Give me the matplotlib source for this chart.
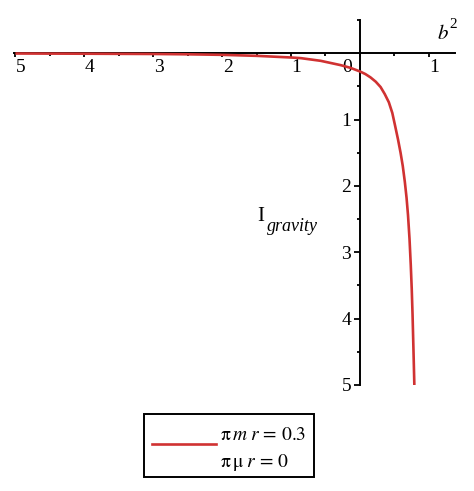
import matplotlib
matplotlib.use("Agg")
from matplotlib import pyplot as plt
from matplotlib.lines import Line2D
from matplotlib.patches import Rectangle
import matplotlib.transforms as mtransforms

plt.rcParams['font.family'] = ['Liberation Serif', 'DejaVu Serif']
plt.rcParams['mathtext.fontset'] = 'stix'

# values
b2 = [5.0, 4.0, 3.0, 2.5, 2.0, 1.5, 1.0, 0.855, 0.57, 0.28, 0.14, 0.0,
      -0.08, -0.154, -0.23, -0.30, -0.36, -0.42, -0.47, -0.51, -0.553,
      -0.59, -0.622, -0.652, -0.677, -0.698, -0.72, -0.738, -0.752, -0.764,
      -0.778, -0.79]
i_gravity = [0.005, 0.008, 0.012, 0.017, 0.025, 0.04, 0.065, 0.075, 0.115,
             0.18, 0.22, 0.275, 0.315, 0.365, 0.43, 0.51, 0.615, 0.74, 0.9,
             1.09, 1.3, 1.5, 1.7, 1.94, 2.18, 2.44, 2.8, 3.19, 3.55, 3.94,
             4.5, 5.0]

x_ticks = [5, 4, 3, 2, 1, 0, -1]
x_tick_labels = ["5", "4", "3", "2", "1", "0", "1"]
y_ticks = [1, 2, 3, 4, 5]
y_tick_labels = ["1", "2", "3", "4", "5"]

legend_lines = [r"$\mathrm{\pi}\:m\:r\,=\,0.3$", r"$\mathrm{\pi}\:\mathrm{\mu}\:r\,=\,0$"]

W, H = 474, 491
fig = plt.figure(figsize=(W / 100, H / 100), dpi=100)

def fx(px):
    return px / W

def fy(py):
    return 1 - py / H

ax = fig.add_axes([fx(14), fy(385), fx(455) - fx(14), fy(20) - fy(385)])

red = "#d03232"
ax.plot(b2, i_gravity, color=red, lw=1.9, solid_capstyle="butt", zorder=3)

ax.set_xlim(5.02, -1.38)
ax.set_ylim(5.0, -0.5)

for s in ["top", "right"]:
    ax.spines[s].set_visible(False)
ax.spines["left"].set_position(("data", 0))
ax.spines["bottom"].set_position(("data", 0))
ax.spines["left"].set_linewidth(1.4)
ax.spines["bottom"].set_linewidth(1.4)

ax.set_xticks(x_ticks)
ax.set_xticklabels(x_tick_labels, fontsize=14)
ax.set_xticks([4.5, 3.5, 2.5, 1.5, 0.5, -0.5], minor=True)
ax.set_yticks(y_ticks)
ax.set_yticklabels(y_tick_labels, fontsize=14)
ax.set_yticks([-0.5, 0.5, 1.5, 2.5, 3.5, 4.5], minor=True)

ax.tick_params(axis="x", which="major", direction="out", length=3.2, width=1.3, pad=1)
ax.tick_params(axis="x", which="minor", direction="out", length=2.2, width=1.3)
ax.tick_params(axis="y", which="major", direction="out", length=4.3, width=1.3, pad=2)
ax.tick_params(axis="y", which="minor", direction="out", length=2.2, width=1.3)

# shift x tick labels slightly right, and the 0 label left of the axis
for lab, val in zip(ax.get_xticklabels(), x_ticks):
    dx = -9 / 72 if val == 0 else 4 / 72
    lab.set_transform(lab.get_transform() +
                      mtransforms.ScaledTranslation(dx, 0, fig.dpi_scale_trans))

# axis labels
fig.text(fx(437), fy(39), "$b$", fontsize=15, ha="left", va="baseline")
fig.text(fx(449), fy(28), "2", fontsize=11, ha="left", va="baseline")
fig.text(fx(257), fy(221), "I", fontsize=15, ha="left", va="baseline")
fig.text(fx(267), fy(231), "gravity", fontsize=13, style="italic", ha="left", va="baseline")

# legend box
fig.add_artist(Rectangle((fx(144), fy(477)), fx(314) - fx(144), fy(414) - fy(477),
                         transform=fig.transFigure, fill=False, edgecolor="black", lw=1.4))
fig.add_artist(Line2D([fx(152), fx(216)], [fy(444), fy(444)], transform=fig.transFigure,
                      color=red, lw=1.9))
fig.text(fx(220), fy(440), legend_lines[0], fontsize=14, ha="left", va="baseline")
fig.text(fx(220), fy(467), legend_lines[1], fontsize=14, ha="left", va="baseline")

fig.savefig("out.png", dpi=100)
